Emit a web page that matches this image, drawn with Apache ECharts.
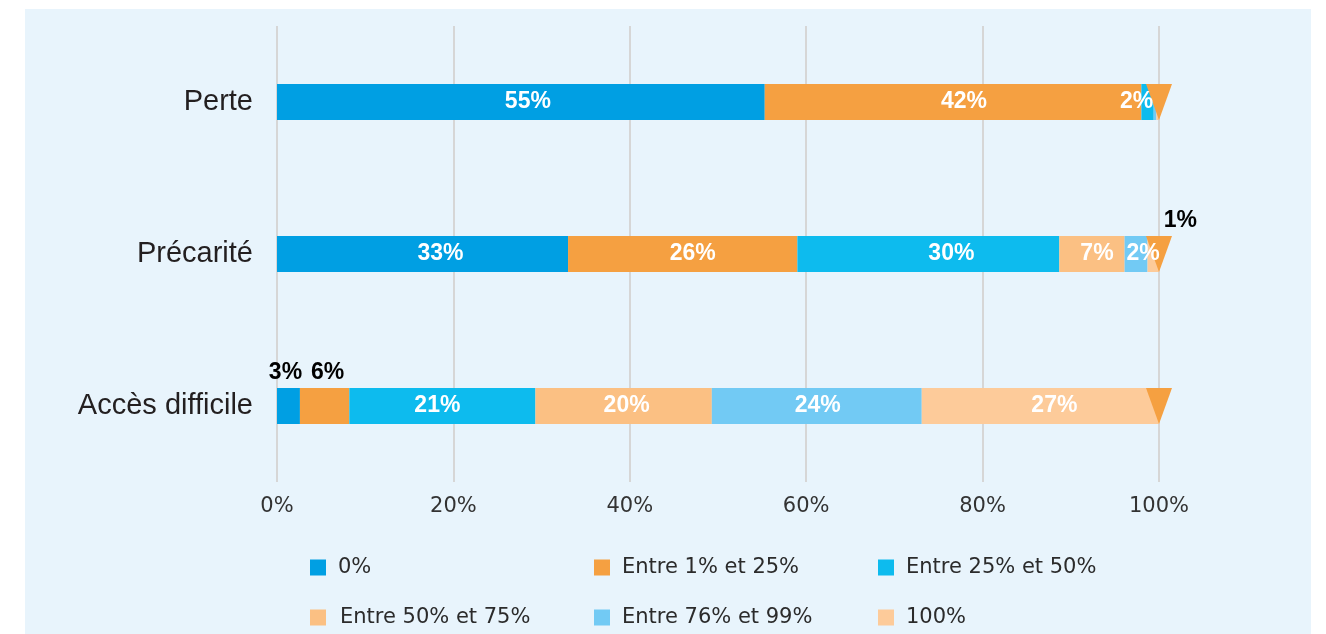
<!DOCTYPE html>
<html>
<head>
<meta charset="utf-8">
<script src="https://cdn.jsdelivr.net/npm/echarts@6/dist/echarts.min.js"></script>
<style>
  html, body { margin: 0; padding: 0; background: #ffffff; }
  #chart { width: 1326px; height: 634px; }
</style>
</head>
<body>
<div id="chart"></div>
<script>
// ---- data ----
const categories = ['Perte', 'Précarité', 'Accès difficile'];
const seriesNames = ['0%', 'Entre 1% et 25%', 'Entre 25% et 50%', 'Entre 50% et 75%', 'Entre 76% et 99%', '100%'];
const share0 = [55.3, 33.0, 2.6];
const share1to25 = [42.7, 26.0, 5.6];
const share25to50 = [1.4, 29.7, 21.1];
const share50to75 = [0, 7.4, 20.0];
const share76to99 = [0.3, 2.6, 23.8];
const share100 = [0.3, 1.3, 26.9];
const labels0 = ['55%', '33%', '3%'];
const labels1to25 = ['42%', '26%', '6%'];
const labels25to50 = ['2%', '30%', '21%'];
const labels50to75 = ['', '7%', '20%'];
const labels76to99 = ['', '2%', '24%'];
const labels100 = ['', '1%', '27%'];
const xTicks = [0, 20, 40, 60, 80, 100];
const markerValue = 100;

// ---- styling ----
const colors = ['#009fe3', '#f5a041', '#0dbbee', '#fbc083', '#72caf4', '#fdcb9a'];
const values = [share0, share1to25, share25to50, share50to75, share76to99, share100];
const texts = [labels0, labels1to25, labels25to50, labels50to75, labels76to99, labels100];
// labels drawn above the bar in black (seriesIndex-categoryIndex)
const outsideLabels = { '0-2': true, '1-2': true, '5-1': true };
// horizontal label shifts (px) to match the reference placement
const labelShift = [
  [7, 18, -3],
  [11, 10, 3],
  [-11, 23, -5],
  [0, 5, 3],
  [0, 7, 1],
  [0, 27, 14]
];

// coloured bars (no labels)
const series = seriesNames.map((name, si) => ({
  name: name,
  type: 'bar',
  stack: 'total',
  barWidth: 36,
  z: 2,
  itemStyle: { color: colors[si] },
  data: values[si]
}));

// end-of-bar marker (drawn above the bars)
series.push({
  name: 'marker',
  type: 'scatter',
  z: 3,
  silent: true,
  symbol: 'path://M0,0L26,0L13,36Z',
  symbolSize: [26, 36],
  itemStyle: { color: '#f5a041', opacity: 1 },
  label: { show: false },
  data: categories.map(c => [markerValue, c])
});

// transparent overlay carrying the value labels (drawn above the marker)
seriesNames.forEach((name, si) => {
  series.push({
    name: 'labels-' + si,
    type: 'bar',
    stack: 'labels',
    barWidth: 36,
    barGap: '-100%',
    z: 4,
    silent: true,
    itemStyle: { color: 'rgba(0,0,0,0)' },
    data: values[si].map((v, ci) => {
      const key = si + '-' + ci;
      const outside = !!outsideLabels[key];
      return {
        value: v,
        label: {
          show: texts[si][ci] !== '',
          position: outside ? 'top' : 'inside',
          distance: outside ? 4 : 5,
          offset: [labelShift[si][ci], 0],
          color: outside ? '#000000' : '#ffffff',
          fontFamily: 'Liberation Sans, Arial, sans-serif',
          fontWeight: 'bold',
          fontSize: 23,
          formatter: () => texts[si][ci]
        }
      };
    })
  });
});

const legendPos = [
  [310, 557], [594, 557], [878, 557],
  [310, 607], [594, 607], [878, 607]
];
const legends = seriesNames.map((name, i) => ({
  data: [name],
  left: legendPos[i][0],
  top: legendPos[i][1],
  padding: 0,
  icon: 'rect',
  itemWidth: 16,
  itemHeight: 16,
  selectedMode: false,
  textStyle: {
    fontFamily: 'DejaVu Sans, sans-serif',
    fontSize: 21,
    color: '#2b2b2b',
    padding: [0, 0, 0, (i === 3 ? 9 : 7)]
  }
}));

const chart = echarts.init(document.getElementById('chart'), null, { renderer: 'canvas' });
chart.setOption({
  backgroundColor: '#ffffff',
  animation: false,
  graphic: [{
    type: 'rect',
    z: -10,
    silent: true,
    shape: { x: 25, y: 9, width: 1286, height: 630 },
    style: { fill: '#e8f4fc' }
  }],
  legend: legends,
  grid: { left: 277, right: 167, top: 26, bottom: 152, containLabel: false },
  xAxis: {
    type: 'value',
    min: xTicks[0],
    max: xTicks[xTicks.length - 1],
    interval: xTicks[1] - xTicks[0],
    axisLine: { show: false },
    axisTick: { show: false },
    splitLine: { show: true, lineStyle: { color: '#d6d6d6', width: 2 } },
    axisLabel: {
      margin: 14,
      fontFamily: 'DejaVu Sans, sans-serif',
      fontSize: 21,
      color: '#333333',
      formatter: '{value}%'
    }
  },
  yAxis: {
    type: 'category',
    inverse: true,
    data: categories,
    axisLine: { show: false },
    axisTick: { show: false },
    axisLabel: {
      margin: 24,
      fontFamily: 'Liberation Sans, Arial, sans-serif',
      fontSize: 29,
      color: '#231f20'
    }
  },
  series: series
});
</script>
</body>
</html>
